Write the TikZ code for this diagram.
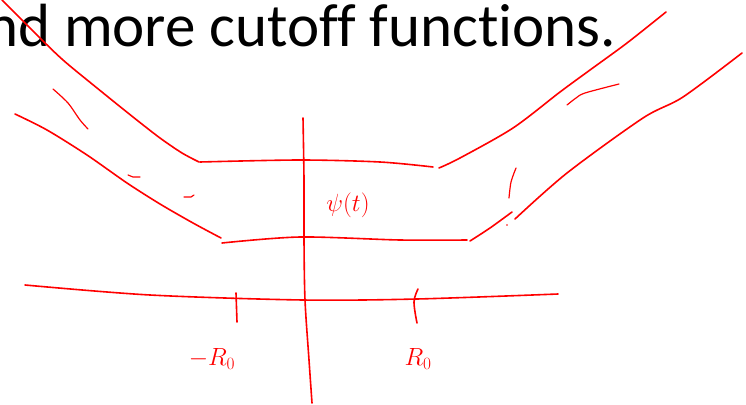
\documentclass[tikz,border=0pt]{standalone}
\usepackage{fontspec}
\newfontfamily\calib[Ligatures=NoCommon]{Carlito}
\begin{document}
\begin{tikzpicture}[x=1pt,y=-1pt,
  ink/.style={draw=red,line width=1.6pt,line cap=round,line join=round},
  thin ink/.style={draw=red,line width=1.2pt,line cap=round,line join=round},
  hand/.style={text=red,inner sep=0pt,font=\fontsize{25}{27}\selectfont}]
\useasboundingbox (0,0) rectangle (746,404);
\clip (0,0) rectangle (746,404);
\fill[white] (0,0) rectangle (746,404);
% title
\node[anchor=base west,inner sep=0pt,font=\calib\fontsize{61}{63}\selectfont] (title) at (-14,47) {nd more cutoff functions.};
% upper-left band edge
\draw[ink] plot[smooth,tension=0.5] coordinates {(2,0) (37,35) (63,60) (97,88) (133,117) (160,138) (182,153) (199,162)};
% upper horizontal
\draw[ink] plot[smooth,tension=0.5] coordinates {(200,162) (300,160) (380,162) (433,167)};
% upper-right band edge
\draw[ink] plot[smooth,tension=0.5] coordinates {(439,168) (460,158) (513,128) (560,92) (590,70) (627,43) (666,12)};
% lower-left band edge
\draw[ink] plot[smooth,tension=0.5] coordinates {(15,114) (47,130) (87,155) (127,183) (160,204) (193,223) (221,238)};
% lower horizontal
\draw[ink] plot[smooth,tension=0.5] coordinates {(222,243) (300,237) (400,240) (467,240)};
% lower-right band edge
\draw[ink] plot[smooth,tension=0.5] coordinates {(470,241) (490,228) (512,212)};
\draw[ink] plot[smooth,tension=0.5] coordinates {(515,219) (567,173) (643,118) (683,97) (742,53)};
\fill[red] (507,225) circle (0.9);
% short strokes
\draw[thin ink] plot[smooth,tension=0.5] coordinates {(53,89) (68,103) (80,120) (88,129)};
\draw[thin ink] (128,175) -- (133,177) -- (140,177);
\draw[thin ink] (184,197) -- (191,197) -- (194,195);
\draw[thin ink] plot[smooth,tension=0.5] coordinates {(567,105) (576,98) (585,93) (619,84)};
\draw[thin ink] plot[smooth,tension=0.5] coordinates {(516,168) (511,182) (509,198)};
% axes
\draw[ink] plot[smooth,tension=0.5] coordinates {(303,118) (304,180) (304,240) (305,300) (309,360) (312,403)};
\draw[ink] plot[smooth,tension=0.5] coordinates {(25,285) (150,295) (303,300) (417,299) (558,294)};
% ticks
\draw[ink] (236,293) -- (237,322);
\draw[ink] plot[smooth,tension=0.6] coordinates {(418,289) (414,302) (417,323)};
% labels
\node[hand] (psi) at (348,205) {$\psi(t)$};
\node[hand] (mR) at (212,359) {$-R_0$};
\node[hand] (R) at (418,359) {$R_0$};
\end{tikzpicture}
\end{document}
